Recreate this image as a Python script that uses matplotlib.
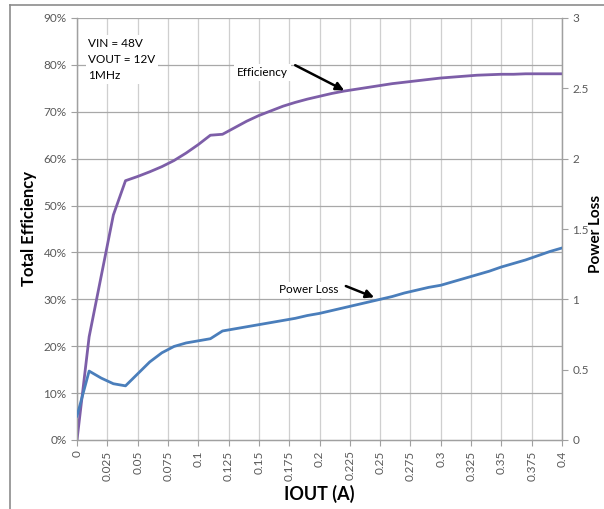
import matplotlib
matplotlib.use("Agg")
import matplotlib.pyplot as plt
from matplotlib.ticker import PercentFormatter, FixedLocator
from matplotlib.lines import Line2D

plt.rcParams['font.family'] = ['Lato', 'DejaVu Sans']

# --- datos ---
iout = [0.00, 0.01, 0.02, 0.03, 0.04, 0.05, 0.06, 0.07, 0.08, 0.09,
        0.10, 0.11, 0.12, 0.13, 0.14, 0.15, 0.16, 0.17, 0.18, 0.19,
        0.20, 0.21, 0.22, 0.23, 0.24, 0.25, 0.26, 0.27, 0.28, 0.29,
        0.30, 0.31, 0.32, 0.33, 0.34, 0.35, 0.36, 0.37, 0.38, 0.39, 0.40]

eficiencia = [0.0, 22.0, 35.0, 48.0, 55.3, 56.2, 57.2, 58.3, 59.6, 61.2,
              63.0, 65.0, 65.2, 66.6, 68.0, 69.2, 70.2, 71.2, 72.0, 72.7,
              73.3, 73.9, 74.4, 74.8, 75.2, 75.6, 76.0, 76.3, 76.6, 76.9,
              77.2, 77.4, 77.6, 77.8, 77.9, 78.0, 78.0, 78.1, 78.1, 78.1, 78.1]

perdida = [0.17, 0.49, 0.44, 0.40, 0.385, 0.47, 0.555, 0.62, 0.665, 0.69,
           0.705, 0.72, 0.775, 0.79, 0.805, 0.82, 0.835, 0.85, 0.865, 0.885,
           0.90, 0.92, 0.94, 0.96, 0.98, 1.00, 1.02, 1.045, 1.065, 1.085,
           1.10, 1.125, 1.15, 1.175, 1.20, 1.23, 1.255, 1.28, 1.31, 1.34, 1.365]

xticks = [0, 0.025, 0.05, 0.075, 0.1, 0.125, 0.15, 0.175, 0.2, 0.225,
          0.25, 0.275, 0.3, 0.325, 0.35, 0.375, 0.4]
xtick_labels = ["0", "0.025", "0.05", "0.075", "0.1", "0.125", "0.15", "0.175", "0.2",
                "0.225", "0.25", "0.275", "0.3", "0.325", "0.35", "0.375", "0.4"]
y2ticks = [0, 0.5, 1, 1.5, 2, 2.5, 3]
y2tick_labels = ["0", "0.5", "1", "1.5", "2", "2.5", "3"]

GRIS_TXT = "#595959"
GRIS_EJE = "#a0a0a0"

fig = plt.figure(figsize=(6.04, 5.09), dpi=100)
ax = fig.add_axes([77/604, 1 - 440/509, 485/604, 422/509])
ax2 = ax.twinx()

# grilla
for x in xticks:
    ax.axvline(x, color="#cfcfcf", lw=0.9, zorder=0)
for y in range(10, 91, 10):
    ax.axhline(y, color="#a8a8a8", lw=0.9, zorder=0)

ax.plot(iout, eficiencia, color="#7d5ea8", lw=2.0, zorder=3)
ax2.plot(iout, perdida, color="#4a7ebb", lw=2.0, zorder=3)

ax.set_xlim(0, 0.4)
ax.set_ylim(0, 90)
ax2.set_ylim(0, 3)

ax.yaxis.set_major_locator(FixedLocator(range(0, 91, 10)))
ax.yaxis.set_major_formatter(PercentFormatter(100, decimals=0))
ax.set_xticks(xticks)
ax.set_xticklabels(xtick_labels, rotation=90)
ax2.set_yticks(y2ticks)
ax2.set_yticklabels(y2tick_labels)

for a in (ax, ax2):
    a.tick_params(colors=GRIS_EJE, labelcolor=GRIS_TXT, labelsize=8.5,
                  length=4, width=0.8, direction="out")
    for s in a.spines.values():
        s.set_color(GRIS_EJE)
        s.set_linewidth(0.9)
    a.spines["top"].set_visible(False)

ax.set_xlabel("IOUT (A)", fontsize=13, fontweight="bold", color="black", labelpad=3)
ax.set_ylabel("Total Efficiency", fontsize=12, fontweight="bold", color="black", labelpad=5)
fig.text(589/604, 0.54, "Power Loss", rotation=90, ha="left", va="center",
         fontsize=11, fontweight="bold", color="black")

# cuadro de condiciones
ax.text(0.009, 85.8, "VIN = 48V\nVOUT = 12V\n1MHz", ha="left", va="top",
        fontsize=8.5, linespacing=1.6, zorder=4,
        bbox=dict(boxstyle="square,pad=0.2", fc="white", ec="none"))

# rotulos con flechas
ax.text(0.153, 78.4, "Efficiency", ha="center", va="center", fontsize=8.5, zorder=4,
        bbox=dict(boxstyle="square,pad=0.25", fc="white", ec="none"))
ax.annotate("", xy=(0.2224, 74.3), xytext=(0.1779, 80.2), zorder=5,
            arrowprops=dict(arrowstyle="-|>", color="black", lw=1.8, mutation_scale=12))

ax.text(0.1908, 32.0, "Power Loss", ha="center", va="center", fontsize=8.5, zorder=4,
        bbox=dict(boxstyle="square,pad=0.25", fc="white", ec="none"))
ax.annotate("", xy=(0.2472, 30.2), xytext=(0.2196, 33.05), zorder=5,
            arrowprops=dict(arrowstyle="-|>", color="black", lw=1.8, mutation_scale=12))

# marco del grafico (recortado)
fig.add_artist(Line2D([10/604, 10/604], [0, 1 - 5/509], transform=fig.transFigure,
                      color="#8c8c8c", lw=1.2))
fig.add_artist(Line2D([10/604, 1], [1 - 5/509, 1 - 5/509], transform=fig.transFigure,
                      color="#8c8c8c", lw=1.2))

fig.savefig("out.png", dpi=100)
